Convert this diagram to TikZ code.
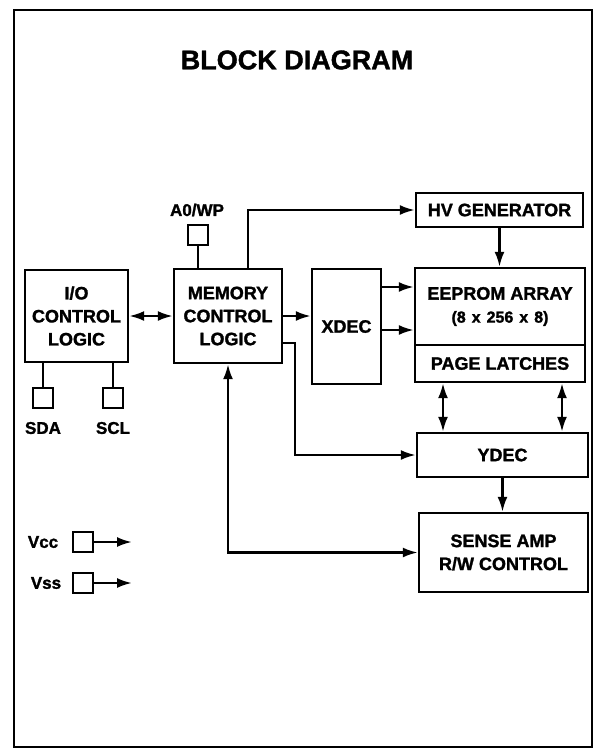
\documentclass[tikz,border=0pt]{standalone}
\usepackage{fontspec}
\setmainfont{Liberation Sans}[BoldFeatures={FakeBold=1.5}]
\usetikzlibrary{arrows.meta}

\begin{document}
\begin{tikzpicture}[x=1pt,y=-1pt,line width=2.4pt,>={Latex[length=15pt,width=10pt]},
  blk/.style={draw,align=center,inner sep=0pt,font=\bfseries\fontsize{18}{23}\selectfont},
  pad/.style={draw,inner sep=0pt,minimum width=20pt,minimum height=20pt,line width=2pt},
  lbl/.style={font=\bfseries\fontsize{17}{20}\selectfont,inner sep=1pt}]
\useasboundingbox (0,0) rectangle (603,750);
\draw[line width=1.8pt] (14,10) rectangle (592,747);
\node[font=\bfseries\fontsize{27}{32}\selectfont] (title) at (297,60) {BLOCK DIAGRAM};
\node[blk,minimum width=103pt,minimum height=92pt] (io) at (76.5,316) {I/O\\CONTROL\\LOGIC};
\node[blk,minimum width=108pt,minimum height=94pt] (mem) at (228,316) {MEMORY\\CONTROL\\LOGIC};
\node[blk,minimum width=69pt,minimum height=115pt] (xdec) at (346.5,326.5) {XDEC};
\node[blk,minimum width=167pt,minimum height=34pt] (hv) at (499.5,210) {HV GENERATOR};
\node[blk,minimum width=170pt,minimum height=77pt] (eeprom) at (500,306.5) {EEPROM ARRAY\\{\fontsize{16}{24}\selectfont\spaceskip=6pt (8 x 256 x 8)}};
\node[blk,minimum width=170pt,minimum height=37pt] (latch) at (500,363.5) {PAGE LATCHES};
\node[blk,minimum width=171pt,minimum height=44pt] (ydec) at (502.5,455) {YDEC};
\node[blk,minimum width=169pt,minimum height=79pt] (sense) at (503.5,552.5) {SENSE AMP\\R/W CONTROL};
\node[pad] (a0) at (198,235) {};
\node[pad] (sda) at (43,398) {};
\node[pad] (scl) at (113,398) {};
\node[pad] (vcc) at (83,542) {};
\node[pad] (vss) at (83,583) {};
\node[lbl] (a0lbl) at (197,210) {A0/WP};
\node[lbl] (sdalbl) at (43,428) {SDA};
\node[lbl] (scllbl) at (113,428) {SCL};
\node[lbl] (vcclbl) at (43,542) {Vcc};
\node[lbl] (vsslbl) at (46,583) {Vss};
\coordinate (ybend) at (295,455);
\coordinate (vccout) at (132,542);
\coordinate (vssout) at (132,583);
\draw (a0.south) -- (a0.south |- mem.north);
\draw (sda.north) -- (sda.north |- io.south);
\draw (scl.north) -- (scl.north |- io.south);
\draw[<->] (io.east) -- (mem.west);
\draw[->] (mem.east) -- (mem.east -| xdec.west);
\draw[->] ([xshift=20pt]mem.north) |- (hv.west);
\draw[->] (hv.south) -- (hv.south |- eeprom.north);
\draw[->] (xdec.east |- 0,287) -- (eeprom.west |- 0,287);
\draw[->] (xdec.east |- 0,330) -- (eeprom.west |- 0,330);
\draw[<->] (latch.south -| 443,0) -- (ydec.north -| 443,0);
\draw[<->] (latch.south -| 562,0) -- (ydec.north -| 562,0);
\draw[->] (mem.east |- 0,343) -| (ybend) -- (ydec.west);
\draw[->] (ydec.south) -- (ydec.south |- sense.north);
\draw[<->] (sense.west) -| (mem.south);
\draw[->] (vcc.east) -- (vccout);
\draw[->] (vss.east) -- (vssout);
\end{tikzpicture}
\end{document}
